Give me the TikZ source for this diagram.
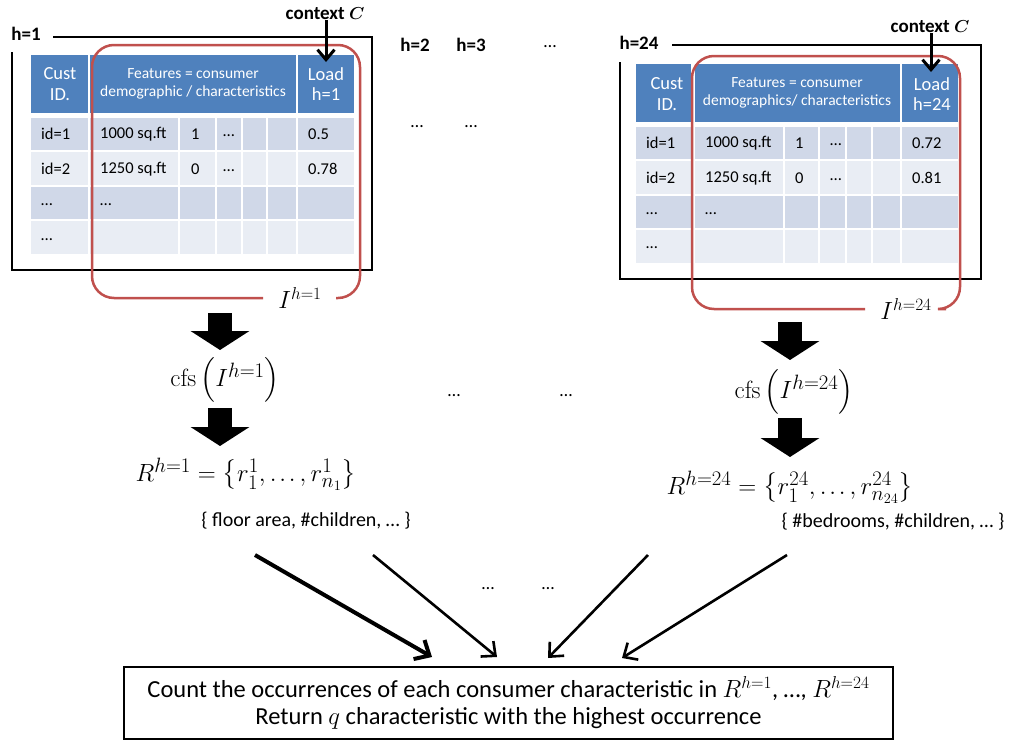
\documentclass[tikz,border=0pt]{standalone}
\usepackage{amsmath}
\usepackage[no-math]{fontspec}
\setmainfont{Carlito}
\usetikzlibrary{arrows.meta}
\definecolor{hdr}{HTML}{4F81BD}
\definecolor{rowA}{HTML}{D0D8E8}
\definecolor{rowB}{HTML}{E9EDF4}
\definecolor{redc}{HTML}{C0504D}
\newcommand\fsz[1]{\fontsize{#1}{1.2\dimexpr #1pt\relax}\selectfont}
\newcommand\mdots{\mathinner{\ldotp\mkern-1mu\ldotp\mkern-1mu\ldotp}}
\tikzset{
  frame/.style={draw=black, line width=1.5pt},
  redbox/.style={draw=redc, line width=2.5pt, rounded corners=22pt},
  hdrtxt/.style={text=white, align=center, inner sep=0pt},
  celltxt/.style={anchor=west, inner sep=0pt, font=\fsz{16.5}},
  hlabel/.style={font=\fsz{19}\bfseries, inner sep=0pt},
  ctxarr/.style={line width=3pt, -{Straight Barb[length=10pt,width=17pt]}},
  blockarr/.style={line width=24pt, -{Triangle[width=58pt,length=19pt]}},
  thinarr/.style={line width=2.6pt, -{Straight Barb[length=11pt,width=20pt]}},
  thickarr/.style={line width=4pt, -{Straight Barb[length=12pt,width=22pt]}},
  mathtxt/.style={inner sep=0pt, font=\fsz{29}},
  subtxt/.style={inner sep=0pt, font=\fsz{20}},
  dots/.style={inner sep=0pt, font=\fsz{18}},
}
\begin{document}
\begin{tikzpicture}[x=1pt,y=-1pt]
\useasboundingbox (0,0) rectangle (1017,742);

% ---------------- left panel (h=1) ----------------
\draw[frame] (53,37) -- (372,37) -- (372,270) -- (12,270) -- (12,52);
\node[hlabel] (h1) at (26,34) {h=1};
\fill[hdr] (31,55) rectangle (88,113);
\fill[hdr] (90,55) rectangle (296,113);
\fill[hdr] (298,55) rectangle (354,113);
\foreach \xa/\xb in {31/88,90/178,180/215,217/241,243/266,268/296,298/354}{
  \foreach \ya/\yb/\c in {118/150/rowA,152/185/rowB,187/219/rowA,221/254/rowB}{
    \fill[\c] (\xa,\ya) rectangle (\xb,\yb);
  }
}
\node[hdrtxt, font=\fsz{18.5}] (Lcust) at (60,84) {Cust\\[-2pt]ID.};
\node[hdrtxt, font=\fsz{15.5}] (Lfeat) at (193,84) {Features = consumer\\[-1pt]demographic / characteristics};
\node[hdrtxt, font=\fsz{18.5}] (Lload) at (326,84) {Load\\[-2pt]h=1};
\node[celltxt] (L11) at (41,134) {id=1};
\node[celltxt] (L12) at (100,134) {1000 sq.ft};
\node[celltxt] (L13) at (191,134) {1};
\node[celltxt] (L14) at (223,136) {…};
\node[celltxt] (L15) at (308,134) {0.5};
\node[celltxt] (L21) at (41,169) {id=2};
\node[celltxt] (L22) at (100,169) {1250 sq.ft};
\node[celltxt] (L23) at (191,169) {0};
\node[celltxt] (L24) at (223,171) {…};
\node[celltxt] (L25) at (308,169) {0.78};
\node[celltxt] (L31) at (41,205) {…};
\node[celltxt] (L32) at (100,205) {…};
\node[celltxt] (L41) at (41,240) {…};
\draw[redbox] (263,298) -- (92,298) -- (92,45) -- (360,45) -- (360,298) -- (336,298);
\node[inner sep=0pt, font=\fsz{24}] (I1) at (300,298) {$I^{h=1}$};
\node[hlabel] (ctx1) at (325,14) {context $\boldsymbol{C}$};
\coordinate (ctx1e) at (326,62);
\draw[ctxarr] (ctx1.south -| ctx1e) -- (ctx1e);

% ---------------- right panel (h=24) ----------------
\draw[frame] (672,45) -- (981,45) -- (981,279) -- (620,279) -- (620,62);
\node[hlabel] (h24) at (639,43) {h=24};
\fill[hdr] (636,64) rectangle (691,122);
\fill[hdr] (695,64) rectangle (900,122);
\fill[hdr] (902,64) rectangle (958,122);
\foreach \xa/\xb in {636/691,695/783,785/818,820/845,847/871,873/900,902/958}{
  \foreach \ya/\yb/\c in {127/159/rowA,161/194/rowB,196/228/rowA,230/263/rowB}{
    \fill[\c] (\xa,\ya) rectangle (\xb,\yb);
  }
}
\node[hdrtxt, font=\fsz{18.5}] (Rcust) at (667,94) {Cust\\[-2pt]ID.};
\node[hdrtxt, font=\fsz{15.5}] (Rfeat) at (797,93) {Features = consumer\\[-1pt]demographics/ characteristics};
\node[hdrtxt, font=\fsz{18.5}] (Rload) at (932,94) {Load\\[-2pt]h=24};
\node[celltxt] (R11) at (646,143) {id=1};
\node[celltxt] (R12) at (705,143) {1000 sq.ft};
\node[celltxt] (R13) at (795,143) {1};
\node[celltxt] (R14) at (830,145) {…};
\node[celltxt] (R15) at (912,143) {0.72};
\node[celltxt] (R21) at (646,178) {id=2};
\node[celltxt] (R22) at (705,178) {1250 sq.ft};
\node[celltxt] (R23) at (795,178) {0};
\node[celltxt] (R24c) at (830,180) {…};
\node[celltxt] (R25) at (912,178) {0.81};
\node[celltxt] (R31) at (646,214) {…};
\node[celltxt] (R32) at (705,214) {…};
\node[celltxt] (R41) at (646,248) {…};
\draw[redbox] (865,309) -- (692,309) -- (692,56) -- (960,56) -- (960,309) -- (946,309);
\node[inner sep=0pt, font=\fsz{24}] (I24) at (906,309) {$I^{h=24}$};
\node[hlabel] (ctx24) at (930,27) {context $\boldsymbol{C}$};
\coordinate (ctx24e) at (931,72);
\draw[ctxarr] (ctx24.south -| ctx24e) -- (ctx24e);

% ---------------- middle labels ----------------
\node[hlabel] (h2) at (415,45) {h=2};
\node[hlabel] (h3) at (471,45) {h=3};
\node[dots] (d0) at (550,47) {…};
\node[dots] (d1) at (417,127) {…};
\node[dots] (d2) at (471,127) {…};

% ---------------- left pipeline ----------------
\node[mathtxt] (cfs1) at (225,380) {$\mathrm{cfs}\left(I^{h=1}\right)$};
\node[mathtxt] (R1) at (246,474) {$R^{h=1}=\left\{r_1^1,\mdots,r_{n_1}^1\right\}$};
\node[subtxt] (R1t) at (306,521) {\{ floor area, \#children, … \}};
\coordinate (b1s) at (220,313);
\coordinate (b1e) at (220,350);
\coordinate (b2s) at (220,408);
\coordinate (b2e) at (220,446);
\draw[blockarr] (b1s) -- (b1e);
\draw[blockarr] (b2s) -- (b2e);

% ---------------- right pipeline ----------------
\node[mathtxt] (cfs24) at (794,392) {$\mathrm{cfs}\left(I^{h=24}\right)$};
\node[mathtxt] (R24) at (790,487) {$R^{h=24}=\left\{r_1^{24},\mdots,r_{n_{24}}^{24}\right\}$};
\node[subtxt] (R24t) at (893,522) {\{ \#bedrooms, \#children, … \}};
\coordinate (b3s) at (790,322);
\coordinate (b3e) at (790,360);
\coordinate (b4s) at (790,418);
\coordinate (b4e) at (790,457);
\draw[blockarr] (b3s) -- (b3e);
\draw[blockarr] (b4s) -- (b4e);

\node[dots] (d3) at (454,396) {…};
\node[dots] (d4) at (566,396) {…};
\node[dots] (d5) at (488,589) {…};
\node[dots] (d6) at (548,589) {…};

% ---------------- bottom box ----------------
\node[draw, line width=2pt, minimum width=769pt, minimum height=72pt, inner sep=0pt, align=center, font=\fsz{24.5}] (count) at (508.5,703)
  {Count the occurrences of each consumer characteristic in $R^{h=1}$, …, $R^{h=24}$\\[-3pt]
   Return $q$ characteristic with the highest occurrence};

\coordinate (a1s) at (255,555);
\coordinate (a1e) at (432,657);
\coordinate (a2s) at (373,555);
\coordinate (a2e) at (497,657);
\coordinate (a3s) at (648,555);
\coordinate (a3e) at (548,658);
\coordinate (a4s) at (787,555);
\coordinate (a4e) at (622,658);
\draw[thickarr] (a1s) -- (a1e);
\draw[thinarr] (a2s) -- (a2e);
\draw[thinarr] (a3s) -- (a3e);
\draw[thinarr] (a4s) -- (a4e);
\end{tikzpicture}
\end{document}
